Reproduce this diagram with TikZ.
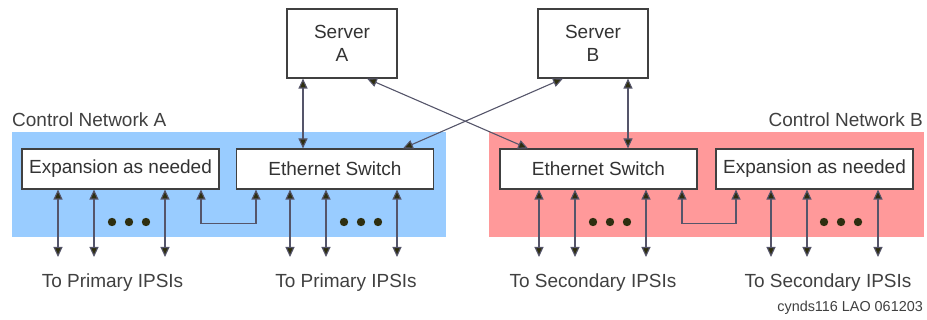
\documentclass[tikz,border=0pt]{standalone}
\usepackage{fontspec}
\setmainfont{Liberation Sans}
\usetikzlibrary{arrows.meta}
\definecolor{netA}{HTML}{99CCFF}
\definecolor{netB}{HTML}{FF999A}
\definecolor{wire}{HTML}{55556A}
\definecolor{tipcol}{HTML}{2E2E10}
\begin{document}
\begin{tikzpicture}[x=1pt,y=-1pt,
box/.style={draw=black!75, line width=1.1pt, fill=white, minimum height=40pt, minimum width=197pt, inner sep=0pt, text=black!80, font=\fontsize{19}{23}\selectfont},
srv/.style={box, minimum width=110pt, minimum height=69pt, align=center},
link/.style={draw=wire, line width=1.1pt, {Triangle[length=10pt,width=9pt,fill=tipcol]}-{Triangle[length=10pt,width=9pt,fill=tipcol]}},
lbl/.style={font=\fontsize{19}{21}\selectfont, text=black!75, inner sep=0pt}]
\useasboundingbox (0,0) rectangle (927,320);
% network areas
\fill[netA] (12,132) rectangle (446,237);
\fill[netB] (489,132) rectangle (924,237);
\node[lbl, anchor=west] (cnA) at (12,120) {Control Network A};
\node[lbl, anchor=east] (cnB) at (923,120) {Control Network B};
% servers
\node[srv] (srvA) at (342,43.5) {Server\\A};
\node[srv] (srvB) at (593,43.5) {Server\\B};
% switches and expansion
\node[box] (expA) at (120.5,169) {Expansion as needed};
\node[box] (ethA) at (335,169) {Ethernet Switch};
\node[box] (ethB) at (598.5,169) {Ethernet Switch};
\node[box] (expB) at (814.5,169) {Expansion as needed};
% server links
\draw[link] ([xshift=-39pt]srvA.south) -- ([xshift=-39pt]srvA.south |- ethA.north);
\draw[link] ([xshift=35pt]srvB.south) -- ([xshift=35pt]srvB.south |- ethB.north);
\draw[link] ([xshift=25pt]srvA.south) -- ([xshift=-70.5pt]ethB.north);
\draw[link] ([xshift=-30pt]srvB.south) -- ([xshift=68pt]ethA.north);
% expansion loops
\draw[link] ([xshift=80.5pt]expA.south) -- ++(0,34) -| ([xshift=-79pt]ethA.south);
\draw[link] ([xshift=83.5pt]ethB.south) -- ++(0,34) -| ([xshift=-78.5pt]expB.south);
% ports
\foreach \x [count=\i] in {58,94,165} {\coordinate (pa\i) at (\x,257); \draw[link] (pa\i |- expA.south) -- (pa\i);}
\foreach \x [count=\i] in {290,326,397} {\coordinate (pb\i) at (\x,257); \draw[link] (pb\i |- ethA.south) -- (pb\i);}
\foreach \x [count=\i] in {539,575,646} {\coordinate (pc\i) at (\x,257); \draw[link] (pc\i |- ethB.south) -- (pc\i);}
\foreach \x [count=\i] in {771,807,878} {\coordinate (pd\i) at (\x,257); \draw[link] (pd\i |- expB.south) -- (pd\i);}
\foreach \x in {112,129,146,344,361,378,593,610,627,824,841,858}
  \fill[tipcol] (\x,222) circle[radius=4.2pt];
% labels
\node[lbl] (toA1) at (112.5,283) {To Primary IPSIs};
\node[lbl] (toA2) at (346,283) {To Primary IPSIs};
\node[lbl] (toB1) at (593,283) {To Secondary IPSIs};
\node[lbl] (toB2) at (828,283) {To Secondary IPSIs};
\node[lbl, anchor=east, font=\fontsize{14.4}{16}\selectfont] (tag) at (923,308) {cynds116 LAO 061203};
\end{tikzpicture}
\end{document}
